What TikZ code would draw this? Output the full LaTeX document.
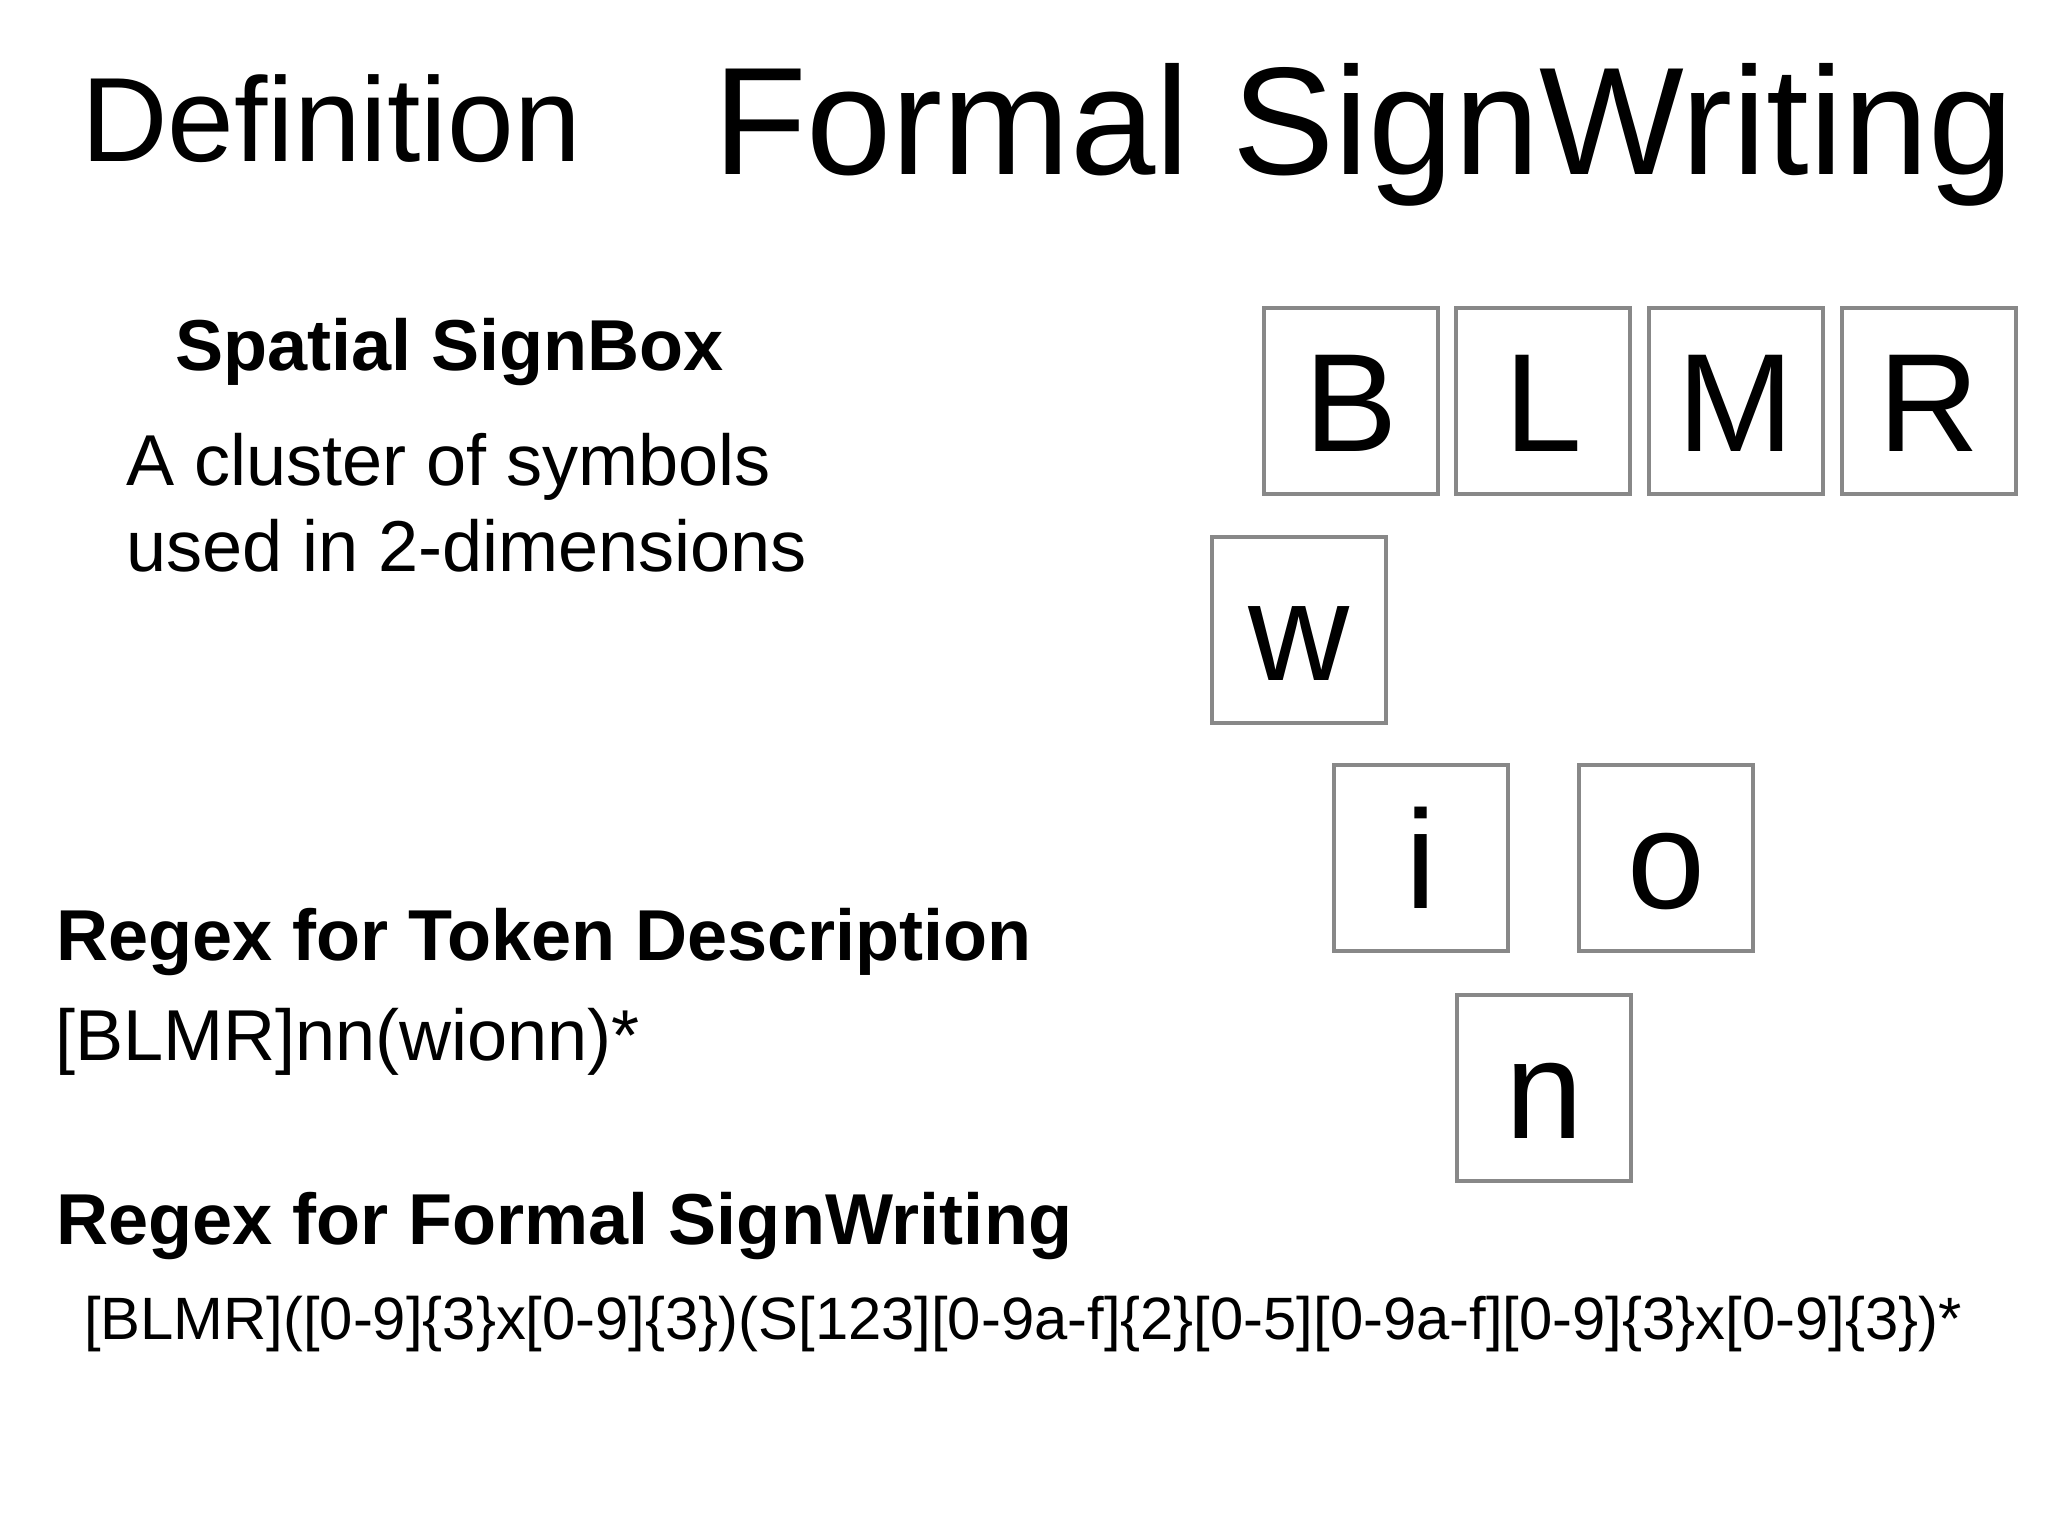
\documentclass[tikz,border=0pt]{standalone}
\usepackage{fontspec}
\setmainfont{Liberation Sans}
\definecolor{boxgray}{RGB}{136,136,136}
\newcommand\fsz[1]{\fontsize{#1}{#1}\selectfont}
\begin{document}
\begin{tikzpicture}[x=0.01cm,y=-0.01cm,
  txt/.style={anchor=base west, inner sep=0pt, outer sep=0pt},
  body/.style={txt, font=\fsz{20.5}},
  head/.style={txt, font=\fsz{20.5}\bfseries},
  lbox/.style={draw=boxgray, line width=0.04cm, minimum width=1.74cm, minimum height=1.85cm,
    inner sep=0pt, text height=1.0cm, text depth=0cm, font=\fsz{39.8}}]
\useasboundingbox[fill=white] (0,0) rectangle (2048,1536);
% titles
\node[txt, font=\fsz{34.1}] (def) at (81,161) {Definition};
\node[txt, font=\fsz{43.6}] (title) at (713,174) {Formal SignWriting};
% left column
\node[head] (ssb) at (175,370) {Spatial SignBox};
\node[body] (d1) at (126,485) {A cluster of symbols};
\node[body] (d2) at (126,571) {used in 2-dimensions};
\node[head] (rtd) at (56,960) {Regex for Token Description};
\node[body] (rtdx) at (55,1060) {[BLMR]nn(wionn)*};
\node[head] (rfs) at (56,1244) {Regex for Formal SignWriting};
\node[txt, font=\fsz{17.0}] (rfsx) at (84,1339) {[BLMR]([0-9]\{3\}x[0-9]\{3\})(S[123][0-9a-f]\{2\}[0-5][0-9a-f][0-9]\{3\}x[0-9]\{3\})*};
% letter boxes
\node[lbox] (bB) at (1351,401) {B};
\node[lbox] (bL) at (1543,401) {L};
\node[lbox] (bM) at (1736,401) {M};
\node[lbox] (bR) at (1929,401) {R};
\node[lbox] (bw) at (1299,630) {w};
\node[lbox] (bi) at (1421,858) {i};
\node[lbox] (bo) at (1666,858) {o};
\node[lbox] (bn) at (1544,1088) {n};
\end{tikzpicture}
\end{document}
